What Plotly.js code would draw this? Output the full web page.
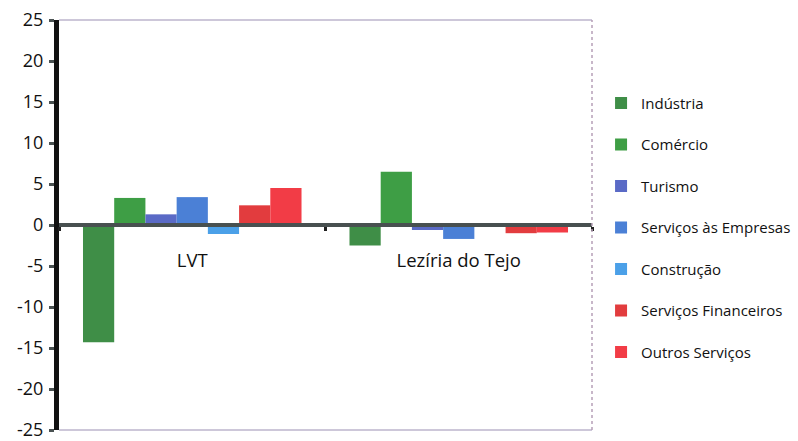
<!DOCTYPE html>
<html>
<head>
<meta charset="utf-8">
<script src="https://cdn.plot.ly/plotly-3.0.1.min.js"></script>
<style>html,body{margin:0;padding:0;background:#fff;}#chart{width:798px;height:441px;}</style>
</head>
<body>
<div id="chart"></div>
<script>
const categories = ['LVT', 'Lezíria do Tejo'];
const seriesNames = ['Indústria', 'Comércio', 'Turismo', 'Serviços às Empresas', 'Construção', 'Serviços Financeiros', 'Outros Serviços'];
const industria = [-14.3, -2.5];
const comercio = [3.3, 6.5];
const turismo = [1.3, -0.6];
const servicosEmpresas = [3.4, -1.7];
const construcao = [-1.1, -0.2];
const servicosFinanceiros = [2.4, -1.0];
const outrosServicos = [4.5, -0.9];
const seriesColors = ['#3f8e47', '#3e9e45', '#5a6ac6', '#4b80d6', '#4ba0e8', '#e23c3e', '#f23c46'];
const yTickVals = [-25, -20, -15, -10, -5, 0, 5, 10, 15, 20, 25];
const yTickText = ['-25', '-20', '-15', '-10', '-5', '0', '5', '10', '15', '20', '25'];

const seriesValues = [industria, comercio, turismo, servicosEmpresas, construcao, servicosFinanceiros, outrosServicos];
const traces = seriesNames.map((name, i) => ({
  type: 'bar',
  name: name,
  x: categories,
  y: seriesValues[i],
  legendgroup: 'g' + i,
  marker: {color: seriesColors[i], line: {width: 0}},
  hoverinfo: 'skip'
}));

const layout = {
  width: 798, height: 441,
  margin: {l: 59, r: 206, t: 20, b: 11, autoexpand: false},
  paper_bgcolor: '#ffffff',
  plot_bgcolor: '#ffffff',
  font: {family: '"Open Sans", Lato, sans-serif', color: '#111111'},
  barmode: 'group',
  bargap: 0.18,
  bargroupgap: 0,
  showlegend: true,
  legend: {
    x: 1.017, xanchor: 'left', y: 0.8375, yanchor: 'top',
    font: {size: 15, color: '#111111'},
    tracegroupgap: 19,
    itemwidth: 30,
    bgcolor: 'rgba(0,0,0,0)'
  },
  xaxis: {
    type: 'category',
    anchor: 'free', position: 0.5,
    showline: true, linecolor: '#485050', linewidth: 4,
    ticks: 'outside', tickson: 'boundaries', ticklen: 4, tickwidth: 3, tickcolor: '#202020',
    ticklabelstandoff: 18,
    tickfont: {size: 18.5, color: '#111111'},
    showgrid: false, zeroline: false,
    fixedrange: true
  },
  yaxis: {
    range: [-25, 25],
    tickvals: yTickVals, ticktext: yTickText,
    showline: true, linecolor: '#111111', linewidth: 5,
    ticks: 'outside', ticklen: 5, tickwidth: 3, tickcolor: '#4a5252',
    tickfont: {size: 18, color: '#111111'},
    ticklabelstandoff: 2,
    ticklabeloverflow: 'allow',
    showgrid: false, zeroline: false,
    fixedrange: true
  },
  shapes: [
    {type: 'line', xref: 'paper', yref: 'paper', x0: 0, x1: 1, y0: 1, y1: 1, line: {color: '#bdb4cc', width: 1.5}},
    {type: 'line', xref: 'paper', yref: 'paper', x0: 0, x1: 1, y0: 0, y1: 0, line: {color: '#bdb4cc', width: 1.5}},
    {type: 'line', xref: 'paper', yref: 'paper', x0: 1, x1: 1, y0: 0, y1: 1, line: {color: '#b7a0b8', width: 1.5, dash: 'dot'}}
  ]
};

Plotly.newPlot('chart', traces, layout, {staticPlot: true, displayModeBar: false});
</script>
</body>
</html>
